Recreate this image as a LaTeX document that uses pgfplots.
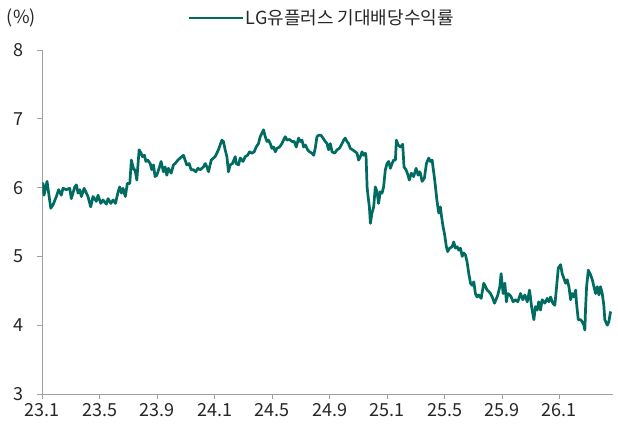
\documentclass[border=0pt]{standalone}
\usepackage{fontspec}
\setmainfont{Noto Sans CJK KR}
\usepackage{pgfplots}
\usepackage{pgfplotstable}
\pgfplotsset{compat=1.18}
\definecolor{lgteal}{RGB}{0,107,96}
\definecolor{axgray}{RGB}{160,160,160}

% x = months since 2023-01, y = expected dividend yield (%)
\pgfplotstableread{
x y
0 6.06
0.05 6.06
0.12 5.89
0.33 6.09
0.59 5.70
0.75 5.75
0.98 5.87
1.14 5.97
1.32 5.89
1.44 5.99
1.67 5.97
1.91 5.99
2.02 5.84
2.26 6.01
2.37 6.04
2.49 5.92
2.61 5.97
2.72 5.87
2.91 5.99
3.07 5.92
3.18 5.87
3.37 5.72
3.53 5.87
3.76 5.80
3.88 5.89
4.07 5.77
4.23 5.82
4.46 5.76
4.58 5.84
4.77 5.77
4.93 5.82
5.09 5.77
5.28 5.94
5.39 6.01
5.51 5.92
5.62 5.99
5.78 5.87
5.92 6.06
6.09 6.06
6.20 6.40
6.37 6.26
6.46 6.26
6.58 6.11
6.74 6.55
6.88 6.50
6.97 6.45
7.11 6.47
7.21 6.38
7.34 6.40
7.51 6.35
7.62 6.26
7.74 6.33
7.85 6.16
7.97 6.18
8.13 6.28
8.27 6.38
8.43 6.23
8.55 6.30
8.67 6.18
8.78 6.28
8.97 6.21
9.13 6.33
9.25 6.35
9.44 6.40
9.60 6.43
9.83 6.47
9.94 6.40
10.06 6.33
10.22 6.35
10.36 6.26
10.52 6.26
10.69 6.23
10.83 6.28
10.99 6.26
11.22 6.30
11.34 6.35
11.46 6.30
11.57 6.23
11.76 6.40
11.92 6.43
12.03 6.45
12.15 6.50
12.26 6.55
12.38 6.62
12.50 6.69
12.61 6.67
12.73 6.55
12.85 6.45
12.96 6.23
13.08 6.33
13.24 6.35
13.43 6.45
13.50 6.35
13.66 6.33
13.78 6.43
13.97 6.38
14.13 6.45
14.29 6.47
14.43 6.52
14.59 6.50
14.75 6.52
14.89 6.59
15.05 6.64
15.17 6.74
15.40 6.84
15.52 6.74
15.64 6.67
15.75 6.69
15.87 6.64
15.99 6.57
16.10 6.59
16.22 6.52
16.33 6.57
16.52 6.59
16.68 6.64
16.79 6.69
16.91 6.74
17.03 6.69
17.21 6.70
17.38 6.67
17.54 6.67
17.68 6.59
17.84 6.72
17.96 6.67
18.08 6.69
18.19 6.59
18.31 6.62
18.47 6.55
18.61 6.52
18.77 6.50
18.89 6.47
19.00 6.57
19.12 6.74
19.23 6.76
19.40 6.76
19.54 6.72
19.70 6.67
19.82 6.64
19.93 6.55
20.05 6.64
20.17 6.52
20.35 6.50
20.52 6.55
20.68 6.57
20.82 6.62
20.98 6.69
21.09 6.72
21.21 6.67
21.32 6.64
21.44 6.57
21.60 6.55
21.79 6.52
21.91 6.50
22.02 6.40
22.14 6.45
22.26 6.52
22.37 6.47
22.49 6.50
22.54 6.45
22.61 6.01
22.68 5.87
22.77 5.72
22.84 5.48
22.95 5.63
23.07 5.72
23.18 6.01
23.30 5.94
23.41 5.77
23.53 5.94
23.65 5.92
23.76 6.01
23.88 6.26
24.00 6.35
24.11 6.38
24.23 6.28
24.35 6.35
24.46 6.40
24.58 6.40
24.65 6.69
24.77 6.62
24.93 6.59
25.09 6.63
25.18 6.30
25.32 6.26
25.46 6.18
25.55 6.11
25.69 6.21
25.85 6.16
26.02 6.28
26.16 6.18
26.25 6.23
26.32 6.21
26.44 6.09
26.60 6.14
26.74 6.35
26.90 6.43
27.02 6.38
27.14 6.40
27.21 6.28
27.30 6.14
27.37 6.01
27.48 5.80
27.60 5.63
27.71 5.72
27.78 5.60
27.90 5.43
27.99 5.34
28.13 5.14
28.22 5.07
28.36 5.12
28.53 5.14
28.64 5.21
28.76 5.12
28.88 5.14
28.99 5.09
29.11 5.12
29.23 5.00
29.34 5.05
29.46 5.02
29.57 4.92
29.69 4.75
29.81 4.61
29.92 4.58
30.04 4.63
30.15 4.46
30.27 4.41
30.38 4.44
30.55 4.39
30.73 4.61
30.85 4.56
30.97 4.51
31.08 4.49
31.20 4.46
31.32 4.41
31.48 4.32
31.62 4.39
31.71 4.44
31.85 4.56
31.94 4.75
32.08 4.46
32.20 4.61
32.31 4.34
32.40 4.46
32.54 4.44
32.64 4.41
32.78 4.34
32.94 4.37
33.10 4.34
33.29 4.46
33.45 4.37
33.59 4.44
33.76 4.34
33.92 4.51
34.06 4.27
34.22 4.08
34.33 4.27
34.45 4.22
34.56 4.34
34.68 4.22
34.80 4.37
34.98 4.32
35.15 4.39
35.26 4.34
35.38 4.41
35.54 4.32
35.68 4.29
35.78 4.51
35.92 4.83
36.08 4.88
36.19 4.75
36.31 4.68
36.43 4.61
36.54 4.66
36.66 4.56
36.78 4.37
36.89 4.46
37.01 4.41
37.13 4.51
37.19 4.32
37.31 4.08
37.47 4.08
37.59 4.05
37.70 4.00
37.77 3.93
37.82 4.25
37.89 4.56
38.01 4.80
38.17 4.73
38.29 4.66
38.40 4.56
38.52 4.46
38.63 4.56
38.75 4.44
38.86 4.56
38.98 4.46
39.09 4.29
39.16 4.08
39.33 4.00
39.44 4.05
39.56 4.20
}\yield

\begin{document}
\begin{tikzpicture}
\useasboundingbox (-42.3pt,-31pt) rectangle (575.7pt,394pt);
\begin{axis}[
  name=ax,
  scale only axis, width=571pt, height=344pt,
  xmin=0, xmax=39.75, ymin=3, ymax=8,
  axis x line*=bottom, axis y line*=left,
  axis line style={draw=axgray, line width=0.8pt},
  xtick={0,4,...,36},
  xticklabels={23.1,23.5,23.9,24.1,24.5,24.9,25.1,25.5,25.9,26.1},
  ytick={3,4,...,8},
  tick align=outside, major tick length=5pt,
  tick style={draw=axgray, line width=0.8pt},
  /pgf/number format/assume math mode=true,
  tick label style={font=\fontsize{18}{18}\selectfont, text=black!85},
  yticklabel style={xshift=-10pt},
  xticklabel style={yshift=-0.5pt},
  legend style={at={(0.489,1.093)}, anchor=center, draw=none, fill=none,
    font=\fontsize{18}{18}\selectfont, text=black!85},
  legend image code/.code={\draw[#1] (0pt,0pt) -- (54pt,0pt);},
]
\addplot[lgteal, line width=2.7pt, line join=round] table[x=x, y=y] {\yield};
\addlegendentry{LG유플러스 기대배당수익률}
\end{axis}
\node[font=\fontsize{18}{18}\selectfont, text=black!85] at ([xshift=-21pt, yshift=32pt]ax.north west) {(\%)};
\end{tikzpicture}
\end{document}
